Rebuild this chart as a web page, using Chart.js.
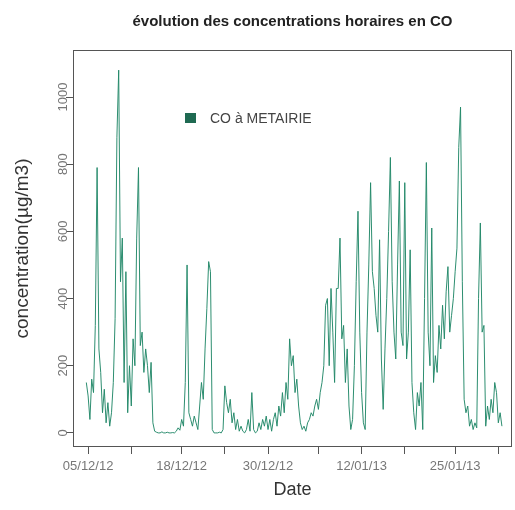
<!DOCTYPE html>
<html>
<head>
<meta charset="utf-8">
<script src="https://cdn.jsdelivr.net/npm/chart.js@4.4.1/dist/chart.umd.min.js"></script>
<style>
  html, body { margin: 0; padding: 0; background: #fff; }
  #wrap { width: 515px; height: 510px; }
</style>
</head>
<body>
<div id="wrap"><canvas id="co-chart" width="515" height="510"></canvas></div>
<script>
  // CO readings, one every 6 h, first one on 04/12/12 18:00 (day -0.25 from 05/12/12)
  const gStartDay = -0.25;
  const gStepDay = 0.25;
  const gSeriesName = 'CO à METAIRIE';
  const gCoValues = [
    150, 110, 40, 160, 120, 320, 790, 250, 180, 60,
    130, 30, 90, 20, 60, 150, 340, 880, 1080, 450,
    580, 150, 480, 60, 200, 80, 280, 200, 580, 790,
    260, 300, 180, 250, 200, 120, 210, 30, 5, 2,
    0, 0, 3, 0, 0, 2, 0, 0, 1, 0,
    5, 15, 8, 40, 20, 150, 500, 60, 40, 20,
    50, 30, 10, 80, 150, 100, 250, 370, 510, 480,
    10, 0, 0, 0, 2, 0, 10, 140, 90, 60,
    100, 30, 60, 10, 40, 5, 20, 5, 0, 10,
    40, 5, 120, 10, 0, 5, 30, 10, 40, 20,
    50, 10, 40, 5, 40, 60, 20, 80, 50, 120,
    60, 150, 100, 280, 200, 230, 120, 160, 80, 30,
    10, 20, 5, 30, 40, 60, 50, 80, 100, 70,
    120, 150, 200, 380, 400, 200, 430, 300, 150, 430,
    430, 580, 280, 320, 150, 250, 80, 10, 40, 200,
    450, 660, 300, 120, 30, 10, 300, 500, 745, 480,
    430, 350, 300, 575, 220, 70, 250, 400, 600, 820,
    450, 300, 220, 500, 750, 300, 260, 745, 220, 300,
    545, 150, 60, 10, 120, 80, 150, 10, 400, 805,
    300, 200, 610, 150, 230, 180, 320, 250, 380, 280,
    420, 495, 300, 350, 400, 480, 550, 850, 970, 450,
    100, 60, 80, 20, 40, 10, 30, 15, 400, 625,
    300, 320, 20, 80, 40, 100, 60, 150, 120, 30,
    60, 20
  ];
  const gTickDays = [0, 6, 13, 19, 25, 32, 38, 44, 51, 57];
  const gTickLabels = ['05/12/12', '', '18/12/12', '', '30/12/12', '', '12/01/13', '', '25/01/13', ''];
  const gYTicks = [0, 200, 400, 600, 800, 1000];

  // build points for the linear x axis (days)
  function buildPoints() {
    return gCoValues.map((v, i) => ({ x: gStartDay + i * gStepDay, y: v }));
  }

  // box around the plot area
  const plotBoxPlugin = {
    id: 'plotBox',
    afterDraw(chart) {
      const ctx = chart.ctx;
      const a = chart.chartArea;
      ctx.save();
      ctx.strokeStyle = '#555';
      ctx.lineWidth = 1;
      ctx.strokeRect(a.left + 0.5, a.top + 0.5, a.right - a.left - 1, a.bottom - a.top - 1);
      ctx.restore();
    },
  };

  // legend drawn inside the plot
  const insideLegendPlugin = {
    id: 'insideLegend',
    afterDatasetsDraw(chart) {
      const ctx = chart.ctx;
      const a = chart.chartArea;
      ctx.save();
      ctx.fillStyle = '#1f6a52';
      ctx.fillRect(a.left + 112, a.top + 63, 11, 10);
      ctx.fillStyle = '#444';
      ctx.font = '14px "Liberation Sans", Arial, sans-serif';
      ctx.textBaseline = 'middle';
      ctx.fillText(gSeriesName, a.left + 137, a.top + 69);
      ctx.restore();
    },
  };

  const gFont = '"Liberation Sans", Arial, sans-serif';

  new Chart(document.getElementById('co-chart'), {
    type: 'line',
    data: {
      datasets: [
        {
          label: gSeriesName,
          data: buildPoints(),
          borderColor: 'rgba(34,136,104,0.95)',
          borderWidth: 1,
          pointRadius: 0,
          tension: 0,
          fill: false,
        },
      ],
    },
    options: {
      responsive: false,
      animation: false,
      devicePixelRatio: 1,
      layout: { padding: { left: 0, right: 3, top: 0, bottom: 0 } },
      plugins: {
        legend: { display: false },
        tooltip: { enabled: false },
        title: {
          display: true,
          text: 'évolution des concentrations horaires en CO',
          fullSize: false,
          color: '#222',
          font: { family: gFont, size: 15, weight: 'bold' },
          padding: { top: 13, bottom: 19 },
        },
      },
      scales: {
        x: {
          type: 'linear',
          min: -2.1,
          max: 58.9,
          afterBuildTicks: (scale) => {
            scale.ticks = gTickDays.map((d) => ({ value: d }));
          },
          afterFit: (scale) => {
            scale.height = 63;
          },
          ticks: {
            autoSkip: false,
            maxRotation: 0,
            padding: 5,
            color: '#777',
            font: { family: gFont, size: 13 },
            callback: (value, index) => gTickLabels[index],
          },
          grid: { drawOnChartArea: false, drawTicks: true, tickLength: 7, tickColor: '#555' },
          border: { display: false },
          title: {
            display: true,
            text: 'Date',
            color: '#333',
            font: { family: gFont, size: 18 },
            padding: { top: 0, bottom: 9 },
          },
        },
        y: {
          min: -42,
          max: 1140,
          afterBuildTicks: (scale) => {
            scale.ticks = gYTicks.map((v) => ({ value: v }));
          },
          afterFit: (scale) => {
            scale.width = 73;
          },
          ticks: {
            minRotation: 90,
            maxRotation: 90,
            crossAlign: 'center',
            padding: -12,
            color: '#777',
            font: { family: gFont, size: 13 },
            callback: (value) => String(value),
          },
          grid: { drawOnChartArea: false, drawTicks: true, tickLength: 7, tickColor: '#555' },
          border: { display: false },
          title: {
            display: true,
            text: 'concentration(µg/m3)',
            color: '#333',
            font: { family: gFont, size: 19 },
            padding: { top: 11, bottom: 0 },
          },
        },
      },
    },
    plugins: [plotBoxPlugin, insideLegendPlugin],
  });
</script>
</body>
</html>
